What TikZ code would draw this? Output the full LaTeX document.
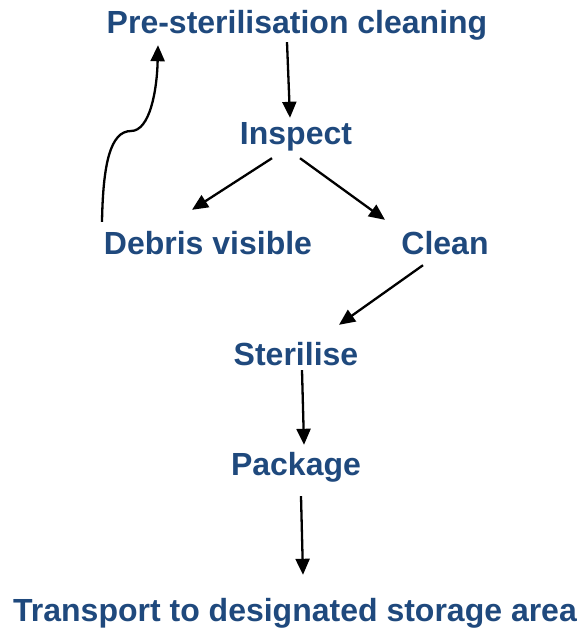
\documentclass[tikz,border=0pt]{standalone}
\usepackage{fontspec}
\setmainfont{Liberation Sans}
\usetikzlibrary{arrows.meta}
\definecolor{txtblue}{RGB}{31,73,125}
\begin{document}
\begin{tikzpicture}[x=1pt,y=-1pt,
  lbl/.style={anchor=base,inner sep=0pt,text height=23pt,text depth=7pt,
    text=txtblue,font=\fontsize{32}{38}\selectfont\bfseries},
  arr/.style={line width=2.3pt,-{Triangle[length=16pt,width=14pt]}}]
\useasboundingbox (0,0) rectangle (582,630);
\node[lbl] (pre)   at (297,33)  {Pre-sterilisation cleaning};
\node[lbl] (insp)  at (296,144) {Inspect};
\node[lbl] (deb)   at (208,254) {Debris visible};
\node[lbl] (clean) at (445,254) {Clean};
\node[lbl] (ster)  at (296,365) {Sterilise};
\node[lbl] (pack)  at (296,475) {Package};
\node[lbl] (trans) at (295,621) {Transport to designated storage area};
\draw[arr] ([shift={(-10,2)}]pre.south) -- ([shift={(-6,-3)}]insp.north);
\draw[arr] ([shift={(-24,7)}]insp.south) -- ([shift={(-16,-21)}]deb.north);
\draw[arr] ([shift={(4,7)}]insp.south) -- ([shift={(-60,-11)}]clean.north);
\draw[arr] ([shift={(-22,4)}]clean.south) -- ([shift={(43,-17)}]ster.north);
\draw[arr] ([shift={(6,-2)}]ster.south) -- ([shift={(8,-7)}]pack.north);
\draw[arr] ([shift={(5,14)}]pack.south) -- ([shift={(8,-23)}]trans.north);
\coordinate (kink) at (131,131);
\draw[arr] ([shift={(-106,-9)}]deb.north) .. controls (103,165) and (110,131) .. (kink)
  .. controls (150,131) and (157,90) .. ([shift={(-139,5)}]pre.south);
\end{tikzpicture}
\end{document}
